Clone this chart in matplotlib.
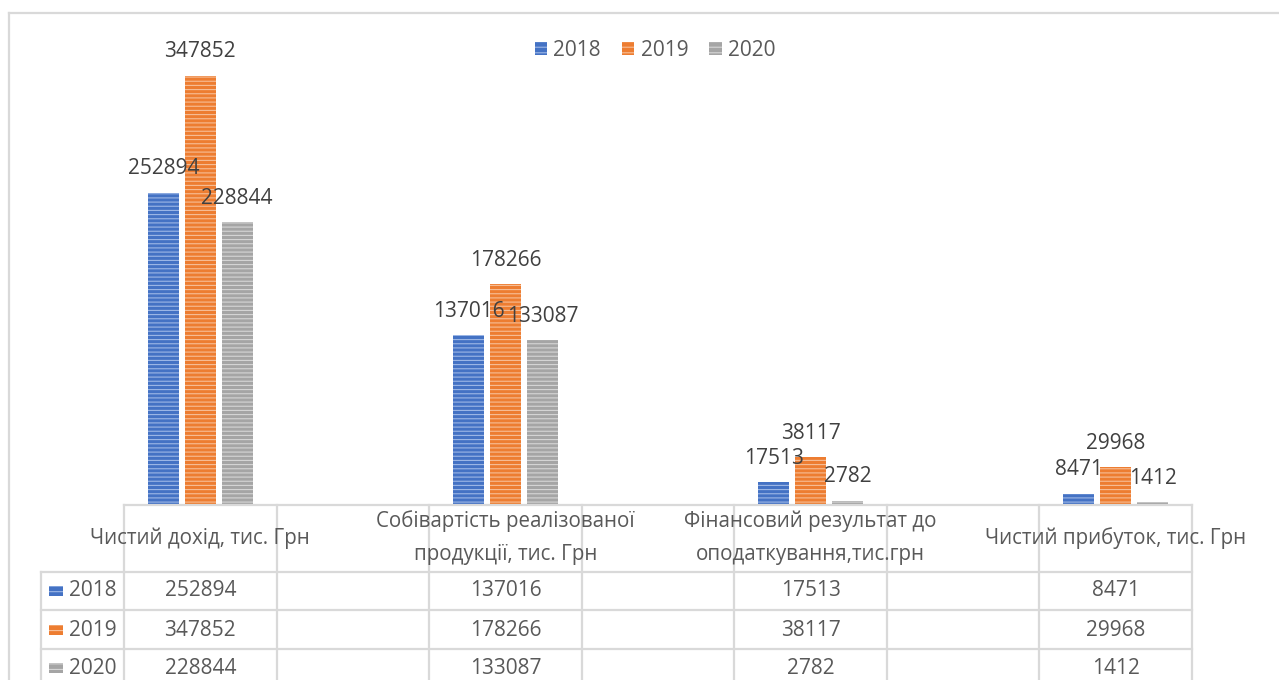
import matplotlib.pyplot as plt
import matplotlib.transforms as mtransforms
from matplotlib.patches import Patch, Rectangle
from matplotlib.lines import Line2D

categories = ["Чистий дохід, тис. Грн",
              "Собівартість реалізованої\nпродукції, тис. Грн",
              "Фінансовий результат до\nоподаткування,тис.грн",
              "Чистий прибуток, тис. Грн"]
years = ["2018", "2019", "2020"]
v2018 = [252894, 137016, 17513, 8471]
v2019 = [347852, 178266, 38117, 29968]
v2020 = [228844, 133087, 2782, 1412]
series = [v2018, v2019, v2020]

# the table in the source has an empty column between every category
slots = [0, 2, 4, 6]
n_slots = 7

colors = ['#4472C4', '#ED7D31', '#A5A5A5']
stripes = ['#9DB7E6', '#F7BE96', '#D6D6D6']
txt = '#404040'
tbl_txt = '#595959'
grid = '#D9D9D9'

plt.rcParams['font.family'] = ['Open Sans', 'DejaVu Sans']
plt.rcParams['hatch.linewidth'] = 0.8

W, H = 1279, 680
fig = plt.figure(figsize=(W / 100, H / 100), dpi=100)
fig.patch.set_facecolor('white')

def fx(p):
    return p / W

def fy(p):
    return 1 - p / H

ax = fig.add_axes([fx(124), fy(504), fx(1192) - fx(124), fy(20) - fy(504)])
ax.set_xlim(-0.5, n_slots - 0.5)
ax.set_ylim(0, 393000)
ax.axis('off')

bw = 0.203
step = 0.242
for i, vals in enumerate(series):
    xs = [s + (i - 1) * step for s in slots]
    ax.bar(xs, vals, width=bw, color=colors[i], edgecolor=stripes[i],
           linewidth=0, hatch='----')
    for x, v in zip(xs, vals):
        ax.annotate(str(v), (x, v), xytext=(0, 17), textcoords='offset points',
                    ha='center', va='center', fontsize=15, color=txt,
                    annotation_clip=False)

# legend on top
handles = [Patch(facecolor=colors[i], edgecolor=stripes[i], linewidth=0,
                 hatch='---', label=years[i]) for i in range(3)]
fig.legend(handles=handles, ncol=3, loc='center',
           bbox_to_anchor=(fx(655), fy(50)), frameon=False, fontsize=15,
           handlelength=0.6, handleheight=0.6, handletextpad=0.3,
           columnspacing=1.0, labelcolor='#595959')

# chart border
fig.add_artist(Line2D([fx(9), fx(9)], [fy(13), 0], color=grid, lw=1.6))
fig.add_artist(Line2D([fx(9), 1], [fy(13), fy(13)], color=grid, lw=1.6))

# data table
tr = mtransforms.blended_transform_factory(ax.transData, fig.transFigure)
left, right = -0.5, n_slots - 0.5
row_y = [505, 572, 610, 649, 690]
fig.add_artist(Line2D([left, right], [fy(505), fy(505)], color=grid, lw=1.6, transform=tr))
for y in row_y[1:]:
    fig.add_artist(Line2D([fx(41), fx(124)], [fy(y), fy(y)], color=grid, lw=1.6))
    fig.add_artist(Line2D([left, right], [fy(y), fy(y)], color=grid, lw=1.6, transform=tr))
for k in range(n_slots + 1):
    xb = k - 0.5
    fig.add_artist(Line2D([xb, xb], [fy(505), fy(690)], color=grid, lw=1.6, transform=tr))
fig.add_artist(Line2D([fx(41), fx(41)], [fy(572), fy(690)], color=grid, lw=1.6))

for s, cat in zip(slots, categories):
    fig.text(s, fy(538), cat, transform=tr, ha='center', va='center',
             fontsize=14.8, color=tbl_txt, linespacing=1.75)

row_c = [591, 630, 668]
for i, vals in enumerate(series):
    yc = row_c[i]
    fig.add_artist(Rectangle((fx(49), fy(yc + 5)), fx(14), 10 / H,
                             facecolor=colors[i], edgecolor=stripes[i],
                             linewidth=0, hatch='---'))
    fig.text(fx(69), fy(yc), years[i], ha='left', va='center',
             fontsize=15, color=tbl_txt)
    for s, v in zip(slots, vals):
        fig.text(s, fy(yc), str(v), transform=tr, ha='center', va='center',
                 fontsize=15, color=tbl_txt)

fig.savefig('out.png', dpi=100)
